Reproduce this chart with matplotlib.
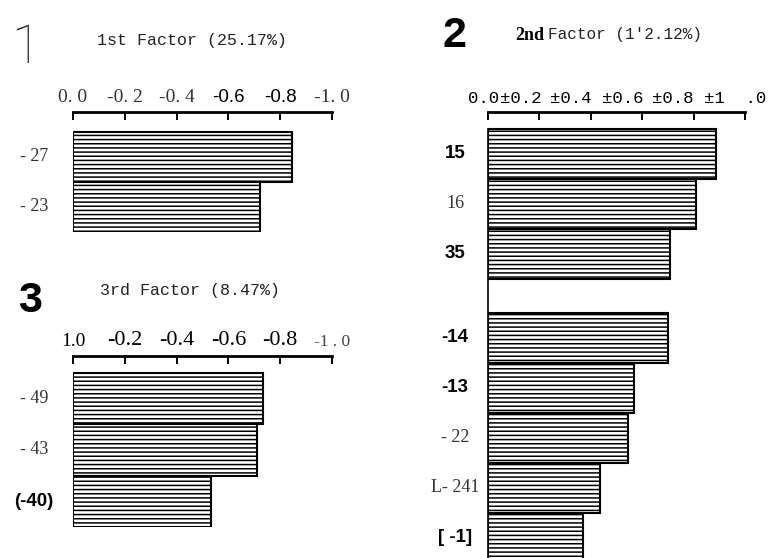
import numpy as np
import matplotlib
matplotlib.use('Agg')
import matplotlib.pyplot as plt
import matplotlib.transforms as mtrans

# Datos (cargas factoriales, valor absoluto)
f1_labels = ['- 27', '- 23']
f1_values = [0.846, 0.723]

f2_labels = ['15', '16', '35', '-14', '-13', '- 22', 'L- 241', '[ -1]']
f2_values = [0.887, 0.81, 0.707, 0.70, 0.57, 0.543, 0.434, 0.371]

f3_labels = ['- 49', '- 43', '(-40)']
f3_values = [0.734, 0.71, 0.533]

f1_ticks = ['0. 0', '-0. 2', '-0. 4', '-0.6', '-0.8', '-1. 0']
f2_ticks = ['0.0', '\u00b10.2', '\u00b10.4', '\u00b10.6', '\u00b10.8', '\u00b11  .0']
f3_ticks = ['1.0', '-0.2', '-0.4', '-0.6', '-0.8', '-1 . 0']

W, H = 771, 558
fig = plt.figure(figsize=(W / 100, H / 100), dpi=100)
plt.rcParams['hatch.linewidth'] = 1.1

SERIF = 'Liberation Serif'
SANS = 'Liberation Sans'
MONO = 'Liberation Mono'
bold_labels = ['15', '35', '-14', '-13', '(-40)', '[ -1]']


def panel(left, top, right, bottom):
    return fig.add_axes([left / W, 1 - bottom / H, (right - left) / W, (bottom - top) / H])


def draw(ax, pos, values, labels, ticks, ylim, label_x, tick_font, left_spine=False):
    ax.barh(pos, values, height=1.0, left=0, color='white', edgecolor='black',
            linewidth=1.5, hatch='----', align='center')
    ax.set_xlim(0, 1.0)
    ax.set_ylim(*ylim)
    for s in ['right', 'bottom']:
        ax.spines[s].set_visible(False)
    ax.spines['left'].set_visible(left_spine)
    if left_spine:
        ax.spines['left'].set_bounds(-0.5, ylim[0])
        ax.spines['left'].set_linewidth(1.2)
    ax.spines['top'].set_linewidth(2.0)
    ax.xaxis.tick_top()
    ax.set_xticks(np.linspace(0, 1, 6))
    ax.set_xticklabels(ticks)
    ax.tick_params(axis='x', direction='in', length=6, width=1.4, pad=4)
    ax.set_yticks([])
    for t, fam in zip(ax.get_xticklabels(), tick_font):
        t.set_fontfamily(fam[0])
        t.set_fontsize(fam[1])
        t.set_fontweight(fam[2])
        t.set_color(fam[3])
    tr = mtrans.blended_transform_factory(fig.transFigure, ax.transData)
    for p, lab in zip(pos, labels):
        if lab in bold_labels:
            ax.text(label_x / W, p, lab, transform=tr, ha='center', va='center',
                    fontsize=13.5, fontfamily=SANS, fontweight='bold', clip_on=False)
        else:
            ax.text(label_x / W, p, lab, transform=tr, ha='center', va='center',
                    fontsize=13, fontfamily=SERIF, color='#333333', clip_on=False)


# Panel 1
ax1 = panel(73, 112, 332, 232)
draw(ax1, np.arange(len(f1_values)), f1_values, f1_labels, f1_ticks, (1.5, -0.9), 34,
     [(SERIF, 14, 'normal', '#333333')] * 3 + [(SANS, 13.5, 'normal', 'black')] * 2
     + [(SERIF, 14, 'normal', '#333333')])

# Panel 3
ax3 = panel(73, 356, 332, 527)
draw(ax3, np.arange(len(f3_values)), f3_values, f3_labels, f3_ticks, (2.5, -0.83), 34,
     [(SERIF, 14, 'normal', 'black')] + [(SERIF, 16, 'normal', 'black')] * 4
     + [(SERIF, 12.5, 'normal', '#444444')])

# Panel 2 (hueco entre cargas positivas y negativas)
pos2 = np.arange(len(f2_values)) + np.where(np.arange(len(f2_values)) >= 3, 0.68, 0.0)
ax2 = panel(488, 112, 745, 558)
draw(ax2, pos2, f2_values, f2_labels, f2_ticks, (8.08, -0.84), 455,
     [(MONO, 12.5, 'normal', 'black')] * 6, left_spine=True)
# etiquetas del eje superior: desplazamiento y alineacion como en el original
offs = [(-4, 'center'), (2, 'right'), (1, 'right'), (1, 'right'), (0, 'right'), (-10, 'center')]
for t, (dx, ha) in zip(ax2.get_xticklabels(), offs):
    t.set_transform(t.get_transform() + mtrans.ScaledTranslation(dx / 100, 0, fig.dpi_scale_trans))
    t.set_horizontalalignment(ha)

# Titulos
fig.text(26 / W, 1 - 48 / H, '1', fontsize=38, fontfamily='Roboto', fontweight=100,
         color='#222222', ha='center', va='center')
fig.text(97 / W, 1 - 41 / H, '1st Factor (25.17%)', fontsize=12, fontfamily=MONO,
         color='#222222', ha='left', va='center')
fig.text(30 / W, 1 - 301 / H, '3', fontsize=31, fontfamily=SANS, fontweight='bold',
         ha='center', va='center')
fig.text(100 / W, 1 - 290 / H, '3rd Factor (8.47%)', fontsize=12, fontfamily=MONO,
         color='#222222', ha='left', va='center')
fig.text(455 / W, 1 - 36 / H, '2', fontsize=31, fontfamily=SANS, fontweight='bold',
         ha='center', va='center')
fig.text(515 / W, 1 - 35 / H, '2nd', fontsize=13, fontfamily=SERIF, fontweight='bold',
         ha='left', va='center')
fig.text(548 / W, 1 - 35 / H, 'Factor (1\'2.12%)', fontsize=11.5, fontfamily=MONO,
         color='#222222', ha='left', va='center')

plt.savefig('out.png', dpi=100)
